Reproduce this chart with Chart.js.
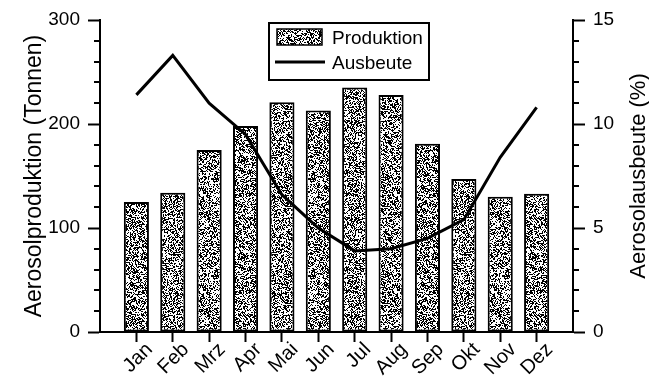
<!DOCTYPE html>
<html>
<head>
<meta charset="utf-8">
<script src="https://cdn.jsdelivr.net/npm/chart.js@4.4.1/dist/chart.umd.min.js"></script>
<style>
  html, body { margin: 0; padding: 0; background: #fff; }
  canvas { display: block; }
</style>
</head>
<body>
<canvas id="c" width="649" height="386"></canvas>
<script>
// Monthly aerosol production (t) and aerosol yield (%)
const months = ['Jan', 'Feb', 'Mrz', 'Apr', 'Mai', 'Jun', 'Jul', 'Aug', 'Sep', 'Okt', 'Nov', 'Dez'];
const produktion = [125, 134, 175, 198, 221, 213, 235, 228, 181, 147, 130, 133];
const ausbeute = [11.4, 13.3, 11.0, 9.5, 6.6, 5.0, 3.9, 4.0, 4.5, 5.4, 8.4, 10.8];

const FONT = '"Liberation Sans", Arial, Helvetica, sans-serif';
const canvas = document.getElementById('c');
const ctx = canvas.getContext('2d');

// Stippled black-and-white fill used for the bars
function stipplePattern() {
  const size = 97;
  const c = document.createElement('canvas');
  c.width = c.height = size;
  const g = c.getContext('2d');
  const img = g.createImageData(size, size);
  for (let y = 0; y < size; y++) {
    for (let x = 0; x < size; x++) {
      let h = (Math.imul(x, 374761393) + Math.imul(y, 668265263)) >>> 0;
      h = Math.imul(h ^ (h >>> 13), 1274126177) >>> 0;
      h = (h ^ (h >>> 16)) >>> 0;
      const v = (h % 1000) < 460 ? 0 : 255;
      const i = (y * size + x) * 4;
      img.data[i] = img.data[i + 1] = img.data[i + 2] = v;
      img.data[i + 3] = 255;
    }
  }
  g.putImageData(img, 0, 0);
  return ctx.createPattern(c, 'repeat');
}
const stipple = stipplePattern();

// Short minor ticks between the labelled ticks of the value axes
const minorTicks = {
  id: 'minorTicks',
  afterDraw(chart, args, opts) {
    const c = chart.ctx;
    c.save();
    c.strokeStyle = '#000';
    c.lineWidth = 2;
    for (const id of Object.keys(opts.steps)) {
      const s = chart.scales[id];
      const step = opts.steps[id];
      for (let v = s.min; v <= s.max + 1e-9; v += step) {
        if (s.ticks.some(t => Math.abs(t.value - v) < 1e-9)) continue;
        const p = Math.round(s.getPixelForValue(v));
        c.beginPath();
        if (s.position === 'left') {
          c.moveTo(s.right - opts.length, p); c.lineTo(s.right, p);
        } else {
          c.moveTo(s.left, p); c.lineTo(s.left + opts.length, p);
        }
        c.stroke();
      }
    }
    c.restore();
  }
};

// Right-hand axis title, reading bottom to top
const rightTitle = {
  id: 'rightTitle',
  afterDraw(chart, args, opts) {
    const c = chart.ctx;
    const a = chart.chartArea;
    c.save();
    c.translate(chart.width - opts.inset, (a.top + a.bottom) / 2);
    c.rotate(-Math.PI / 2);
    c.font = opts.size + 'px ' + FONT;
    c.fillStyle = '#000';
    c.textAlign = 'center';
    c.textBaseline = 'middle';
    c.fillText(opts.text, 0, 0);
    c.restore();
  }
};

// Framed legend placed inside the plot area
const boxLegend = {
  id: 'boxLegend',
  afterDatasetsDraw(chart, args, o) {
    const c = chart.ctx;
    const a = chart.chartArea;
    const x = a.left + o.dx, y = a.top + o.dy;
    const bar = chart.data.datasets.find(d => d.type === 'bar');
    const line = chart.data.datasets.find(d => d.type === 'line');
    c.save();
    c.fillStyle = '#fff';
    c.fillRect(x, y, o.w, o.h);
    c.strokeStyle = '#000';
    c.lineWidth = 2;
    c.strokeRect(x, y, o.w, o.h);
    c.fillStyle = bar.backgroundColor;
    c.fillRect(x + 8, y + 6, 45, 16);
    c.lineWidth = 1.5;
    c.strokeRect(x + 8, y + 6, 45, 16);
    c.beginPath();
    c.moveTo(x + 6, y + 39);
    c.lineTo(x + 56, y + 39);
    c.lineWidth = line.borderWidth;
    c.strokeStyle = line.borderColor;
    c.stroke();
    c.font = o.size + 'px ' + FONT;
    c.fillStyle = '#000';
    c.textBaseline = 'alphabetic';
    c.fillText(bar.label, x + 63, y + 21);
    c.fillText(line.label, x + 63, y + 46);
    c.restore();
  }
};

const tickFont = { family: FONT, size: 19 };

new Chart(ctx, {
  type: 'bar',
  data: {
    datasets: [
      {
        type: 'line',
        label: 'Ausbeute',
        data: months.map((m, i) => ({ x: i + 1, y: ausbeute[i] })),
        yAxisID: 'y2',
        borderColor: '#000',
        borderWidth: 3,
        pointRadius: 0,
        tension: 0,
        order: 0
      },
      {
        type: 'bar',
        label: 'Produktion',
        data: months.map((m, i) => ({ x: i + 1, y: produktion[i] })),
        yAxisID: 'y',
        backgroundColor: stipple,
        borderColor: '#000',
        borderWidth: 2,
        borderSkipped: false,
        barPercentage: 0.69,
        categoryPercentage: 1,
        order: 1
      }
    ]
  },
  options: {
    responsive: false,
    animation: false,
    events: [],
    layout: { padding: { top: 20, left: 0, right: 0, bottom: 0 } },
    plugins: {
      legend: { display: false },
      tooltip: { enabled: false },
      minorTicks: { steps: { y: 20, y2: 1 }, length: 6 },
      rightTitle: { text: 'Aerosolausbeute (%)', size: 22, inset: 10 },
      boxLegend: { dx: 169, dy: 3, w: 160, h: 57, size: 19 }
    },
    scales: {
      x: {
        type: 'linear',
        min: 0,
        max: 13,
        offset: false,
        afterBuildTicks: s => { s.ticks = months.map((m, i) => ({ value: i + 1 })); },
        ticks: {
          callback: v => months[v - 1],
          autoSkip: false,
          maxRotation: 45,
          minRotation: 45,
          padding: -4,
          labelOffset: 13,
          color: '#000',
          font: { family: FONT, size: 20 }
        },
        grid: { offset: false, drawOnChartArea: false, tickLength: 10, tickWidth: 2, tickColor: '#000' },
        border: { color: '#000', width: 2 },
        afterFit: s => { s.height = 54; }
      },
      y: {
        position: 'left',
        min: 0,
        max: 300,
        ticks: { stepSize: 100, padding: 8, color: '#000', font: tickFont },
        grid: { drawOnChartArea: false, tickLength: 12, tickWidth: 2, tickColor: '#000' },
        border: { color: '#000', width: 2 },
        title: {
          display: true,
          text: 'Aerosolproduktion (Tonnen)',
          color: '#000',
          font: { family: FONT, size: 23 },
          padding: { top: 21, bottom: 0 }
        },
        afterFit: s => { s.width = 100; }
      },
      y2: {
        position: 'right',
        min: 0,
        max: 15,
        ticks: { stepSize: 5, padding: 8, color: '#000', font: tickFont },
        grid: { drawOnChartArea: false, tickLength: 12, tickWidth: 2, tickColor: '#000' },
        border: { color: '#000', width: 2 },
        afterFit: s => { s.width = 76; }
      }
    }
  },
  plugins: [minorTicks, rightTitle, boxLegend]
});
</script>
</body>
</html>
